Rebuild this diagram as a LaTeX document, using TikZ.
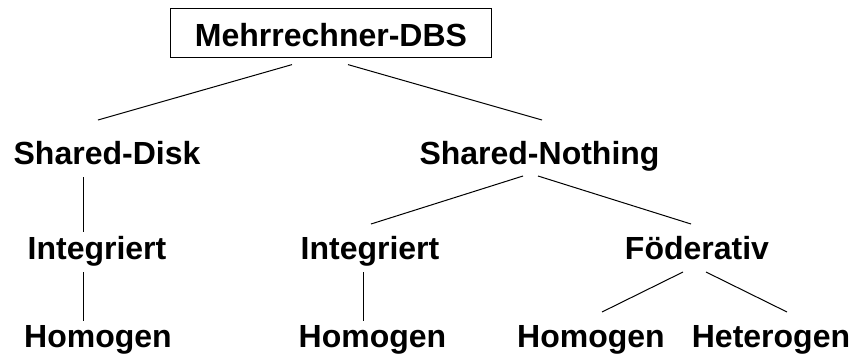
\documentclass[tikz,border=0pt]{standalone}
\usepackage{fontspec}
\setmainfont{Liberation Sans}
\begin{document}
\begin{tikzpicture}[x=1pt,y=-1pt,
  label/.style={font=\fontsize{32}{32}\selectfont\bfseries, inner sep=0pt, anchor=base},
  rootbox/.style={draw, line width=1.2pt, font=\fontsize{32}{32}\selectfont\bfseries,
    minimum width=320.3pt, minimum height=48.3pt, inner sep=0pt,
    text height=27.4pt, text depth=0pt},
  link/.style={line width=1pt}]
  \useasboundingbox (0,0) rectangle (852,354);

  % tree nodes
  \node[rootbox] (root) at (331,33) {Mehrrechner-DBS};
  \node[label] (sd) at (107,164.3) {Shared-Disk};
  \node[label] (sn) at (539.5,164.3) {Shared-Nothing};
  \node[label] (il) at (97,259.5) {Integriert};
  \node[label] (im) at (370,259.5) {Integriert};
  \node[label] (fo) at (697,259.5) {Föderativ};
  \node[label] (hl) at (98,347) {Homogen};
  \node[label] (hm) at (372.5,347) {Homogen};
  \node[label] (hr) at (591,347) {Homogen};
  \node[label] (ht) at (771,347) {Heterogen};

  % connectors
  \draw[link] ([shift={(-39,6.85)}]root.south) -- ([shift={(-9,-44.3)}]sd.base);
  \draw[link] ([shift={(17,6.85)}]root.south) -- ([shift={(2.5,-44.3)}]sn.base);
  \draw[link] ([shift={(-24,12.7)}]sd.base) -- ([shift={(-14,-27.5)}]il.base);
  \draw[link] ([shift={(-14,12.5)}]il.base) -- ([shift={(-15,-26)}]hl.base);
  \draw[link] ([shift={(-16.5,11.7)}]sn.base) -- ([shift={(1,-35.5)}]im.base);
  \draw[link] ([shift={(-1.5,11.7)}]sn.base) -- ([shift={(-6,-35.5)}]fo.base);
  \draw[link] ([shift={(-7,12.5)}]im.base) -- ([shift={(-9.5,-26)}]hm.base);
  \draw[link] ([shift={(-14,12.5)}]fo.base) -- ([shift={(11,-35)}]hr.base);
  \draw[link] ([shift={(9,12.5)}]fo.base) -- ([shift={(16,-35)}]ht.base);
\end{tikzpicture}
\end{document}
